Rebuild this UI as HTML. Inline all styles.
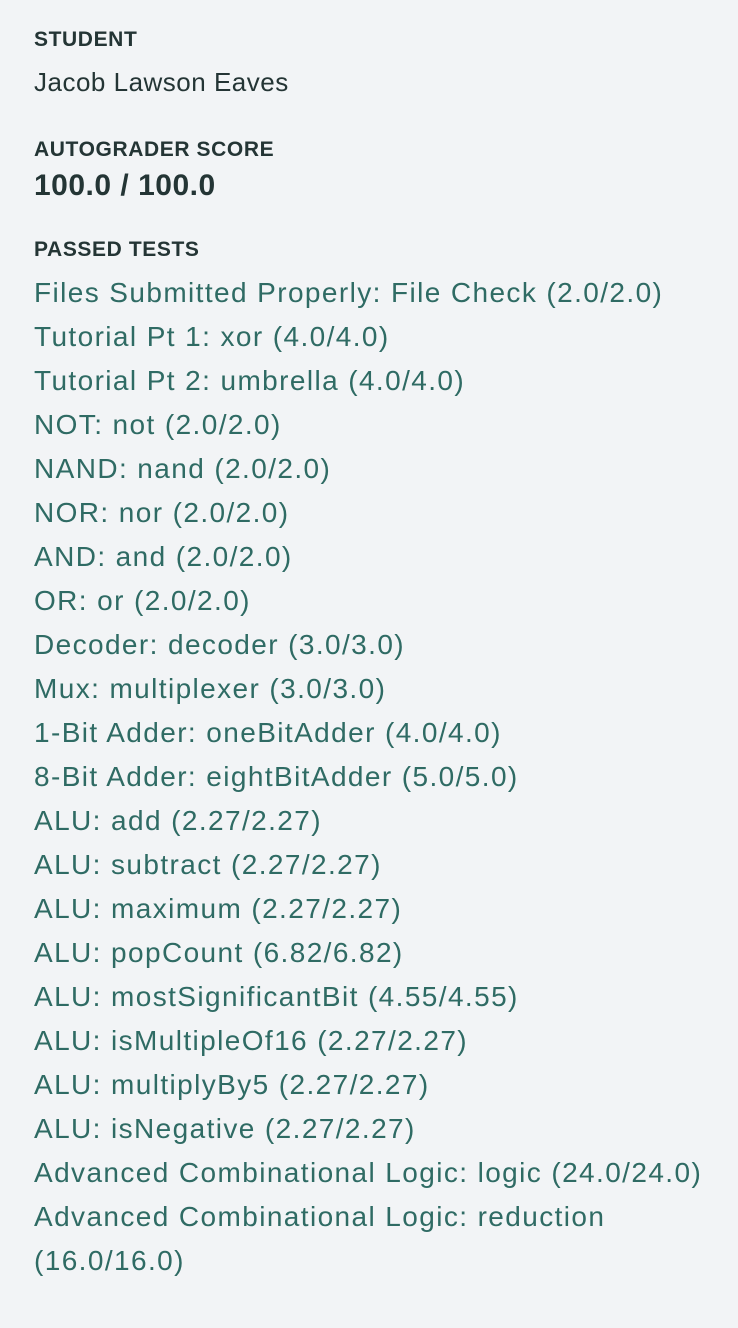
<!DOCTYPE html>
<html><head><meta charset="utf-8"><style>
html,body{margin:0;padding:0;}
body{width:738px;height:1328px;background:#f2f4f6;position:relative;overflow:hidden;font-family:"Liberation Sans",sans-serif;}
.a{position:absolute;left:34px;white-space:nowrap;}
.h{font-size:21px;font-weight:bold;color:#243535;line-height:21px;letter-spacing:0.6px;}
.t{top:271px;font-size:28px;line-height:44px;color:#2f6b64;letter-spacing:1.4px;}
</style></head><body>
<div class="a h" style="top:29px">STUDENT</div>
<div class="a" style="top:69px;font-size:26px;line-height:26px;color:#243535;letter-spacing:0.5px">Jacob Lawson Eaves</div>
<div class="a h" style="top:139px">AUTOGRADER SCORE</div>
<div class="a" style="top:171px;font-size:30px;line-height:30px;font-weight:bold;color:#243535;letter-spacing:0.5px">100.0 / 100.0</div>
<div class="a h" style="top:239px">PASSED TESTS</div>
<div class="a t">Files Submitted Properly: File Check (2.0/2.0)<br>
Tutorial Pt 1: xor (4.0/4.0)<br>
Tutorial Pt 2: umbrella (4.0/4.0)<br>
NOT: not (2.0/2.0)<br>
NAND: nand (2.0/2.0)<br>
NOR: nor (2.0/2.0)<br>
AND: and (2.0/2.0)<br>
OR: or (2.0/2.0)<br>
Decoder: decoder (3.0/3.0)<br>
Mux: multiplexer (3.0/3.0)<br>
1-Bit Adder: oneBitAdder (4.0/4.0)<br>
8-Bit Adder: eightBitAdder (5.0/5.0)<br>
ALU: add (2.27/2.27)<br>
ALU: subtract (2.27/2.27)<br>
ALU: maximum (2.27/2.27)<br>
ALU: popCount (6.82/6.82)<br>
ALU: mostSignificantBit (4.55/4.55)<br>
ALU: isMultipleOf16 (2.27/2.27)<br>
ALU: multiplyBy5 (2.27/2.27)<br>
ALU: isNegative (2.27/2.27)<br>
Advanced Combinational Logic: logic (24.0/24.0)<br>
Advanced Combinational Logic: reduction<br>
(16.0/16.0)</div>
</body></html>
